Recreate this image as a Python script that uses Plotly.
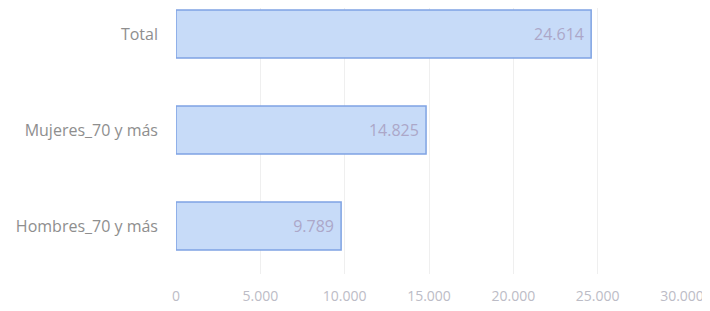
import plotly.graph_objects as go

categories = ["Hombres_70 y más", "Mujeres_70 y más", "Total"]
values = [9789, 14825, 24614]
value_labels = ["9.789", "14.825", "24.614"]
tick_vals = [0, 5000, 10000, 15000, 20000, 25000, 30000]
tick_text = ["0", "5.000", "10.000", "15.000", "20.000", "25.000", "30.000"]

fig = go.Figure(go.Bar(
    x=values, y=categories, orientation="h",
    width=0.5,
    marker=dict(color="#c7dbf8", line=dict(color="#7fa3e3", width=1.5)),
    text=[t + "\u00a0" for t in value_labels],
    textposition="inside", insidetextanchor="end",
    textfont=dict(family="Open Sans", size=16, color="#aca7c8"),
))

fig.update_layout(
    width=702, height=303,
    margin=dict(l=168, r=28, t=0, b=37),
    paper_bgcolor="white", plot_bgcolor="white",
    showlegend=False,
    font=dict(family="Open Sans", size=15, color="#8a8a8a"),
    xaxis=dict(range=[0, 30000], tickvals=tick_vals, ticktext=tick_text,
               automargin=False,
               showgrid=True, gridcolor="#efefef", gridwidth=1,
               zeroline=False, showline=False,
               tickfont=dict(color="#bcbcc6", size=14),
               ticklabelstandoff=12),
    yaxis=dict(categoryorder="array", categoryarray=categories,
               automargin=False,
               range=[-0.5, 2.27], showgrid=False, zeroline=False,
               showline=False, ticks="", ticklabelstandoff=17,
               tickfont=dict(color="#8e8e8e", size=16)),
)

fig.write_html("out.html")
